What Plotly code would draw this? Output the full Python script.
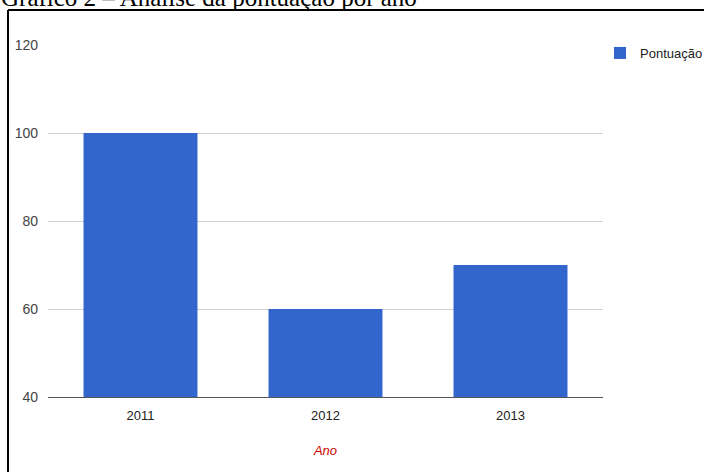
import plotly.graph_objects as go

years = ["2011", "2012", "2013"]
scores = [100, 60, 70]
y_ticks = [40, 60, 80, 100, 120]

W, H = 704, 472
L, R, T, B = 48, 101, 45, 75
pw, ph = W - L - R, H - T - B

def px(x):
    return (x - L) / pw

def py(y):
    return (H - B - y) / ph

fig = go.Figure()
fig.add_trace(go.Bar(x=years, y=scores, name="Pontuação", marker_color="#3366cc",
                     marker_line_width=0))

fig.update_layout(
    width=W, height=H,
    margin=dict(l=L, r=R, t=T, b=B, autoexpand=False),
    plot_bgcolor="white", paper_bgcolor="white",
    bargap=0.384,
    font=dict(family="Liberation Sans, Arial, sans-serif", size=13, color="#222222"),
    showlegend=True,
    legend=dict(x=px(600), y=py(38), xanchor="left", yanchor="top",
                font=dict(size=13, color="#222222"), bgcolor="rgba(0,0,0,0)"),
    xaxis=dict(showgrid=False, showline=True, linecolor="#555555", linewidth=1,
               ticks="", tickfont=dict(size=13, color="#222222"), ticklabelstandoff=6,
               title=dict(text="Ano", font=dict(size=13, color="#cc0000",
                          family="Liberation Sans, Arial, sans-serif", style="italic"),
                          standoff=24)),
    yaxis=dict(range=[40, 120], tickvals=y_ticks, showgrid=True, gridcolor="#d0d0d0",
               zeroline=False, ticks="", tickfont=dict(size=14, color="#444444"),
               ticklabelstandoff=9),
)

fig.add_annotation(text="Gráfico 2 – Análise da pontuação por ano", xref="paper", yref="paper",
                   x=px(-1), y=py(13), xanchor="left", yanchor="bottom", showarrow=False,
                   font=dict(family="Liberation Serif, Times New Roman, serif", size=25,
                             color="black"))

fig.add_shape(type="line", xref="paper", yref="paper", x0=px(8), x1=px(706), y0=py(10), y1=py(10),
              line=dict(color="black", width=2))
fig.add_shape(type="line", xref="paper", yref="paper", x0=px(8), x1=px(8), y0=py(10), y1=py(474),
              line=dict(color="black", width=2))

fig.write_html("out.html")
